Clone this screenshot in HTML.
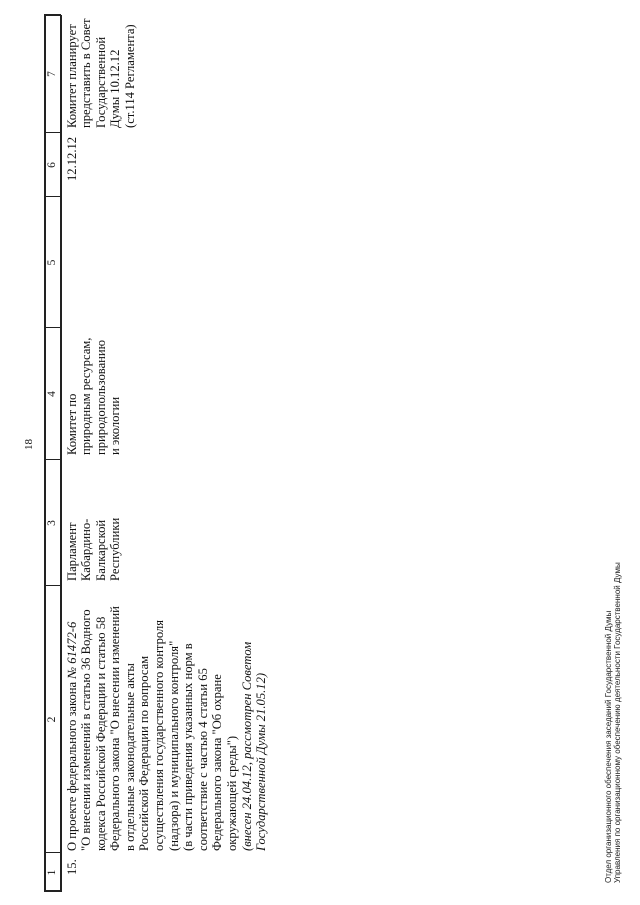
<!DOCTYPE html>
<html><head><meta charset="utf-8"><style>
html,body{margin:0;padding:0;background:#fff;}
body{width:640px;height:905px;position:relative;overflow:hidden;}
#r{position:absolute;left:0;top:905px;width:905px;height:640px;transform-origin:0 0;transform:rotate(-90deg);font-family:"Liberation Serif",serif;color:#111;}
.t{position:absolute;font-size:12.6px;line-height:14.6px;white-space:nowrap;}
.h{position:absolute;top:45px;height:15px;font-size:11.5px;line-height:15px;text-align:center;}
.ln{position:absolute;background:#222;}
.f{position:absolute;font-family:"Liberation Sans",sans-serif;font-size:8px;line-height:9px;white-space:nowrap;color:#222;}
</style></head><body>
<div id="r">
  <div class="ln" style="left:13px;top:44px;width:877px;height:1.5px"></div>
  <div class="ln" style="left:13px;top:60px;width:877px;height:1.5px"></div>
  <div class="ln" style="left:13px;top:44px;width:1.5px;height:17px"></div>
  <div class="ln" style="left:889px;top:44px;width:1.5px;height:17px"></div>
  <div class="ln" style="left:52px;top:44px;width:1.2px;height:17px"></div>
  <div class="ln" style="left:319px;top:44px;width:1.2px;height:17px"></div>
  <div class="ln" style="left:445px;top:44px;width:1.2px;height:17px"></div>
  <div class="ln" style="left:577px;top:44px;width:1.2px;height:17px"></div>
  <div class="ln" style="left:708px;top:44px;width:1.2px;height:17px"></div>
  <div class="ln" style="left:772px;top:44px;width:1.2px;height:17px"></div>
  <div class="h" style="left:13px;width:39px">1</div>
  <div class="h" style="left:52px;width:267px">2</div>
  <div class="h" style="left:319px;width:126px">3</div>
  <div class="h" style="left:445px;width:132px">4</div>
  <div class="h" style="left:577px;width:131px">5</div>
  <div class="h" style="left:708px;width:64px">6</div>
  <div class="h" style="left:772px;width:118px">7</div>

  <div class="t" style="left:455px;top:22px;font-size:11px">18</div>

  <div class="t" style="left:30px;top:64.5px">15.</div>
  <div class="t" style="left:54px;top:64.5px">О проекте федерального закона <i>№ 61472-6</i><br>"О внесении изменений в статью 36 Водного<br>кодекса Российской Федерации и статью 58<br>Федерального закона "О внесении изменений<br>в отдельные законодательные акты<br>Российской Федерации по вопросам<br>осуществления государственного контроля<br>(надзора) и муниципального контроля"<br>(в части приведения указанных норм в<br>соответствие с частью 4 статьи 65<br>Федерального закона "Об охране<br>окружающей среды")<br><i>(внесен 24.04.12, рассмотрен Советом<br>Государственной Думы 21.05.12)</i></div>
  <div class="t" style="left:324px;top:64.5px">Парламент<br>Кабардино-<br>Балкарской<br>Республики</div>
  <div class="t" style="left:450px;top:64.5px">Комитет по<br>природным ресурсам,<br>природопользованию<br>и экологии</div>
  <div class="t" style="left:724px;top:64.5px">12.12.12</div>
  <div class="t" style="left:777px;top:64.5px">Комитет планирует<br>представить в Совет<br>Государственной<br>Думы 10.12.12<br>(ст.114 Регламента)</div>

  <div class="f" style="left:22px;top:604px">Отдел организационного обеспечения заседаний Государственной Думы</div>
  <div class="f" style="left:22px;top:613px">Управления по организационному обеспечению деятельности Государственной Думы</div>
</div>
</body></html>
